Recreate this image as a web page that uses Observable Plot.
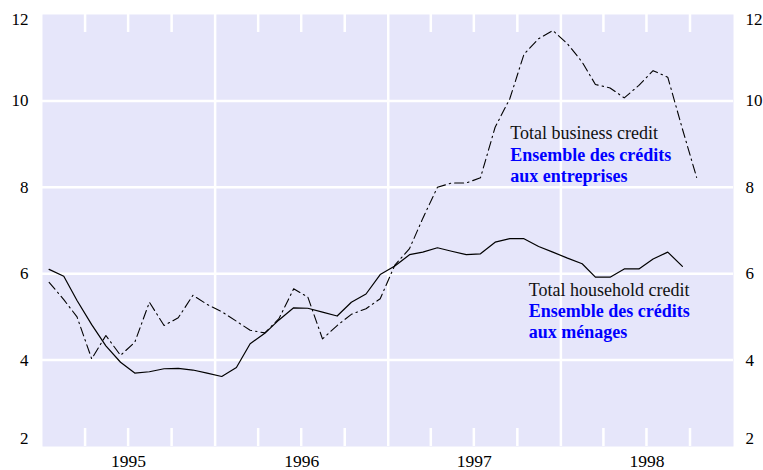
<!DOCTYPE html>
<html>
<head>
<meta charset="utf-8">
<script src="https://cdn.jsdelivr.net/npm/d3@7"></script>
<script src="https://cdn.jsdelivr.net/npm/@observablehq/plot@0.6"></script>
<style>
  html, body { margin: 0; padding: 0; background: white; }
  #chart svg { display: block; overflow: visible; }
  #chart svg, #chart svg text { font-family: "Liberation Serif", "DejaVu Serif", "Times New Roman", serif !important; }
</style>
</head>
<body>
<div id="chart"></div>
<script>
// Monthly series, January 1995 onward (percent)
const household = [
  6.10, 5.94, 5.38, 4.82, 4.33, 3.95, 3.70, 3.73, 3.80, 3.81, 3.77, 3.70,
  3.62, 3.83, 4.38, 4.62, 4.93, 5.21, 5.20, 5.11, 5.02, 5.34, 5.53, 5.98,
  6.18, 6.44, 6.50, 6.60, 6.52, 6.44, 6.46, 6.73, 6.81, 6.81, 6.63, 6.50,
  6.36, 6.23, 5.92, 5.92, 6.11, 6.11, 6.34, 6.50, 6.17
];
const business = [
  5.80, 5.40, 5.00, 4.03, 4.57, 4.11, 4.41, 5.34, 4.80, 4.98, 5.50, 5.29,
  5.12, 4.90, 4.69, 4.63, 4.96, 5.65, 5.46, 4.49, 4.80, 5.06, 5.19, 5.42,
  6.20, 6.58, 7.28, 8.00, 8.10, 8.10, 8.22, 9.39, 10.05, 11.08, 11.44, 11.63,
  11.32, 10.90, 10.38, 10.30, 10.07, 10.36, 10.70, 10.55, 9.35, 8.23
];
const startYear = 1995;
const yearLabels = ["1995", "1996", "1997", "1998"];
const yTicks = [2, 4, 6, 8, 10, 12];
const gridValues = [4, 6, 8, 10];

const monthDate = i => new Date(Date.UTC(startYear, i, 15));
const householdData = household.map((v, i) => ({date: monthDate(i), value: v}));
const businessData = business.map((v, i) => ({date: monthDate(i), value: v}));

const yearStarts = yearLabels.slice(1).map(y => new Date(Date.UTC(+y, 0, 1)));
const quarterTicks = [];
yearLabels.forEach(y => [3, 6, 9].forEach(m => quarterTicks.push(new Date(Date.UTC(+y, m, 1)))));
const yearMids = yearLabels.map(y => ({label: y, date: new Date(Date.UTC(+y, 6, 2))}));

const labelsBlack = [
  {date: new Date(Date.UTC(1997, 8, 16)), value: 9.26, text: "Total business credit"},
  {date: new Date(Date.UTC(1997, 9, 25)), value: 5.61, text: "Total household credit"}
];
const labelsBlue = [
  {date: new Date(Date.UTC(1997, 8, 16)), value: 8.52, text: "Ensemble des crédits\naux entreprises"},
  {date: new Date(Date.UTC(1997, 9, 25)), value: 4.90, text: "Ensemble des crédits\naux ménages"}
];

const innerH = 432;
const font = "Liberation Serif";
const fs = 18;
const afs = 17;
const mid = yTicks.filter(d => d > 2 && d < 12);

const chart = Plot.plot({
  width: 763,
  height: 470,
  marginLeft: 42,
  marginRight: 30,
  marginTop: 14,
  marginBottom: 24,
  style: {fontFamily: font, fontSize: fs + "px", background: "white", color: "black"},
  x: {type: "utc", domain: [new Date(Date.UTC(1995, 0, 1)), new Date(Date.UTC(1999, 0, 1))], axis: null},
  y: {domain: [2, 12], axis: null},
  marks: [
    Plot.frame({fill: "#e6e6fa", stroke: null}),
    Plot.ruleY(gridValues, {stroke: "white", strokeWidth: 2.5}),
    Plot.ruleX(yearStarts, {stroke: "white", strokeWidth: 2.5}),
    Plot.ruleX(quarterTicks, {stroke: "white", strokeWidth: 2.5, insetBottom: innerH - 18}),
    Plot.ruleX(quarterTicks, {stroke: "white", strokeWidth: 2.5, insetTop: innerH - 18}),
    Plot.axisY(mid, {anchor: "left", label: null, tickSize: 0, tickPadding: 14, fontSize: afs, fontFamily: font}),
    Plot.axisY([12], {anchor: "left", label: null, tickSize: 0, tickPadding: 14, dy: 5, fontSize: afs, fontFamily: font}),
    Plot.axisY([2], {anchor: "left", label: null, tickSize: 0, tickPadding: 14, dy: -8, fontSize: afs, fontFamily: font}),
    Plot.axisY(mid, {anchor: "right", label: null, tickSize: 0, tickPadding: 12, fontSize: afs, fontFamily: font}),
    Plot.axisY([12], {anchor: "right", label: null, tickSize: 0, tickPadding: 12, dy: 5, fontSize: afs, fontFamily: font}),
    Plot.axisY([2], {anchor: "right", label: null, tickSize: 0, tickPadding: 12, dy: -8, fontSize: afs, fontFamily: font}),
    Plot.text(yearMids, {x: "date", text: "label", frameAnchor: "bottom", lineAnchor: "top", dy: 8.5, fontSize: 17.5, fontFamily: font, fill: "black"}),
    Plot.line(businessData, {x: "date", y: "value", stroke: "black", strokeWidth: 1.1, strokeDasharray: "9,4,1.5,4"}),
    Plot.line(householdData, {x: "date", y: "value", stroke: "black", strokeWidth: 1.2}),
    Plot.text(labelsBlack, {x: "date", y: "value", text: "text", textAnchor: "start", fontSize: fs, fontFamily: font, fill: "#111"}),
    Plot.text(labelsBlue, {x: "date", y: "value", text: "text", textAnchor: "start", fontSize: fs, fontFamily: font, fontWeight: "bold", fill: "#0000ff", lineHeight: 1.17})
  ]
});
document.getElementById("chart").appendChild(chart);
</script>
</body>
</html>
